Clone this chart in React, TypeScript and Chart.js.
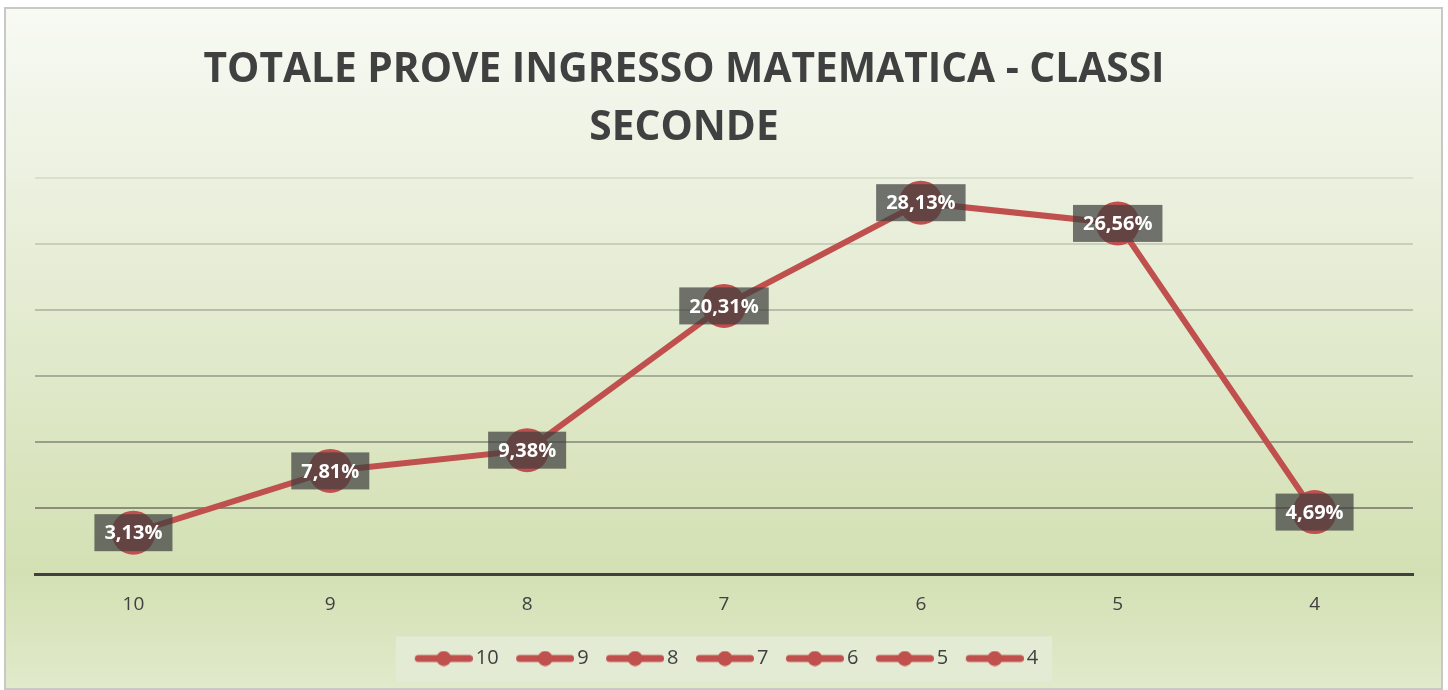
import React, { useEffect, useRef } from "react";
import { Chart, registerables } from "chart.js";

Chart.register(...registerables);

// ---- data ----
const categories: string[] = ["10", "9", "8", "7", "6", "5", "4"];
const percentages: number[] = [3.13, 7.81, 9.38, 20.31, 28.13, 26.56, 4.69];
const titleLines: string[] = ["TOTALE PROVE INGRESSO MATEMATICA - CLASSI", "SECONDE"];
const yMin = 0;
const yMax = 30;
const yStep = 5;

// ---- styles ----
const RED = "#c0504d";
const TEXT = "#404040";
const FONT = "'Open Sans', 'DejaVu Sans', sans-serif";

function makeLegendIcon(): HTMLCanvasElement {
  const c = document.createElement("canvas");
  c.width = 70;
  c.height = 16;
  const g = c.getContext("2d")!;
  g.strokeStyle = RED;
  g.lineWidth = 7;
  g.lineCap = "round";
  g.beginPath();
  g.moveTo(15.5, 8);
  g.lineTo(66.5, 8);
  g.stroke();
  g.fillStyle = RED;
  g.beginPath();
  g.arc(41, 8, 7.5, 0, Math.PI * 2);
  g.fill();
  return c;
}

const backgroundPlugin = {
  id: "bgPlugin",
  beforeDraw(chart: any) {
    const ctx = chart.ctx as CanvasRenderingContext2D;
    const W = chart.width;
    const H = chart.height;
    ctx.save();
    ctx.fillStyle = "#ffffff";
    ctx.fillRect(0, 0, W, H);
    const x0 = 5, y0 = 8, x1 = 1442, y1 = 689;
    const grad = ctx.createLinearGradient(0, y0, 0, y1);
    grad.addColorStop(0, "#f8faf4");
    grad.addColorStop(0.25, "#ecf1e0");
    grad.addColorStop(0.83, "#d3e0b3");
    grad.addColorStop(1, "#e1eacb");
    ctx.fillStyle = grad;
    ctx.fillRect(x0, y0, x1 - x0, y1 - y0);
    ctx.strokeStyle = "#c8c8c8";
    ctx.lineWidth = 2;
    ctx.strokeRect(x0, y0, x1 - x0, y1 - y0);

    // legend panel
    const hb = chart.legend && chart.legend.legendHitBoxes;
    if (hb && hb.length) {
      let minL = Infinity, maxR = -Infinity, cy = 0;
      hb.forEach((b: any) => {
        minL = Math.min(minL, b.left);
        maxR = Math.max(maxR, b.left + b.width);
        cy = b.top + b.height / 2;
      });
      ctx.fillStyle = "#e3ebd4";
      ctx.fillRect(minL - 14, cy - 22, maxR - minL + 28, 45);
    }

    // title
    ctx.fillStyle = TEXT;
    ctx.textAlign = "center";
    ctx.textBaseline = "alphabetic";
    ctx.font = `bold 40px ${FONT}`;
    const w = ctx.measureText(titleLines[0]).width;
    const size = (40 * 961) / w;
    ctx.font = `bold ${size.toFixed(2)}px ${FONT}`;
    ctx.fillText(titleLines[0], 684, 82);
    ctx.fillText(titleLines[1], 684, 140);
    ctx.restore();
  },
};

const dataLabelPlugin = {
  id: "boxLabels",
  afterDatasetsDraw(chart: any) {
    const ctx = chart.ctx as CanvasRenderingContext2D;
    const meta = chart.getDatasetMeta(0);
    const values = chart.data.datasets[0].data as number[];
    ctx.save();
    ctx.font = `bold 20px ${FONT}`;
    ctx.textAlign = "center";
    ctx.textBaseline = "middle";
    meta.data.forEach((pt: any, i: number) => {
      const txt = values[i].toFixed(2).replace(".", ",") + "%";
      const tw = ctx.measureText(txt).width;
      const bw = tw + 20;
      const bh = 37;
      ctx.fillStyle = "rgba(64,64,64,0.72)";
      ctx.fillRect(pt.x - bw / 2, pt.y - bh / 2, bw, bh);
      ctx.fillStyle = "#ffffff";
      ctx.fillText(txt, pt.x, pt.y + 1);
    });
    ctx.restore();
  },
};

export default function App() {
  const ref = useRef<HTMLCanvasElement | null>(null);

  useEffect(() => {
    if (!ref.current) return;
    const icon = makeLegendIcon();
    const chart = new Chart(ref.current, {
      type: "line",
      data: {
        labels: categories,
        datasets: [
          {
            label: "Totale",
            data: percentages,
            borderColor: RED,
            backgroundColor: RED,
            borderWidth: 6,
            pointRadius: 22,
            pointHoverRadius: 22,
            pointBackgroundColor: RED,
            pointBorderWidth: 0,
            tension: 0,
          },
        ],
      },
      options: {
        responsive: false,
        animation: false,
        devicePixelRatio: 1,
        layout: { padding: { left: 35, right: 35, top: 178, bottom: 11.5 } },
        scales: {
          x: {
            offset: true,
            grid: { display: false, drawTicks: false },
            border: { display: true, color: "#404040", width: 3 },
            ticks: {
              color: TEXT,
              padding: 26.5,
              font: { family: FONT, size: 19, lineHeight: "9px" as any },
            },
          },
          y: {
            min: yMin,
            max: yMax,
            ticks: { display: false, stepSize: yStep },
            border: { display: false },
            grid: {
              drawTicks: false,
              lineWidth: 2,
              color: (c: any) => {
                const v = c.tick ? c.tick.value : 0;
                if (v <= 0) return "rgba(0,0,0,0)";
                const a = 0.1 + ((30 - v) / 25) * 0.42;
                return `rgba(64,64,64,${a.toFixed(3)})`;
              },
            },
          },
        },
        plugins: {
          title: { display: false },
          tooltip: { enabled: false },
          legend: {
            display: true,
            position: "bottom",
            onClick: () => {},
            labels: {
              usePointStyle: true,
              pointStyleWidth: 56,
              boxHeight: 20,
              padding: 12.5,
              color: TEXT,
              font: { family: FONT, size: 20 },
              generateLabels: () =>
                categories.map((c, i) => ({
                  text: c,
                  pointStyle: icon,
                  fillStyle: RED,
                  strokeStyle: RED,
                  lineWidth: 0,
                  hidden: false,
                  index: i,
                  datasetIndex: 0,
                  fontColor: TEXT,
                })) as any,
            },
          },
        },
      },
      plugins: [backgroundPlugin, dataLabelPlugin],
    });
    return () => chart.destroy();
  }, []);

  return (
    <div style={{ position: "fixed", left: 0, top: 0, width: 1448, height: 690, background: "#fff" }}>
      <canvas ref={ref} width={1448} height={690} style={{ display: "block" }} />
    </div>
  );
}
